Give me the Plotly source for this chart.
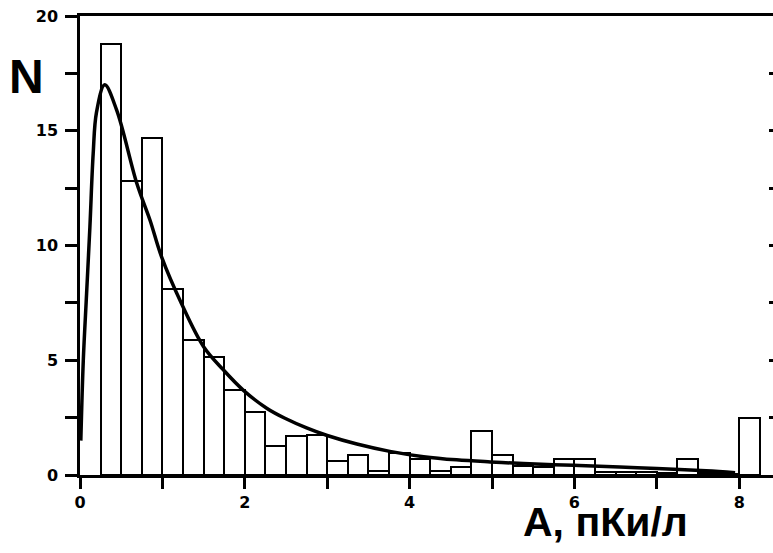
import plotly.graph_objects as go

# Histogram bins (left edges) and counts
bin_left = [0.25, 0.5, 0.75, 1.0, 1.25, 1.5, 1.75, 2.0, 2.25, 2.5, 2.75,
            3.0, 3.25, 3.5, 3.75, 4.0, 4.25, 4.5, 4.75, 5.0, 5.25, 5.5,
            5.75, 6.0, 6.25, 6.5, 6.75, 7.0, 7.25, 7.5, 7.75, 8.0]
counts = [18.8, 12.8, 14.7, 8.1, 5.88, 5.15, 3.7, 2.76, 1.26, 1.68, 1.76,
          0.6, 0.87, 0.18, 0.94, 0.69, 0.18, 0.33, 1.9, 0.87, 0.4, 0.35,
          0.68, 0.68, 0.15, 0.15, 0.15, 0.08, 0.7, 0.1, 0.05, 2.47]
bin_width = 0.25

# Fitted curve
curve_x = [0.01, 0.04, 0.08, 0.12, 0.16, 0.20, 0.30, 0.445, 0.69, 0.85, 0.99,
           1.23, 1.50, 1.74, 1.98, 2.27, 2.5, 2.75, 3.0, 3.36, 3.76, 4.17,
           4.57, 4.98, 5.38, 5.99, 6.55, 7.0, 7.6, 7.95]
curve_y = [1.5, 5.0, 7.9, 10.8, 14.0, 15.8, 17.0, 15.9, 12.7, 11.1, 9.5,
           7.48, 5.59, 4.58, 3.70, 2.90, 2.45, 2.05, 1.72, 1.35, 1.03, 0.8,
           0.66, 0.57, 0.5, 0.42, 0.35, 0.28, 0.18, 0.1]

x_tickvals = [0, 1, 2, 3, 4, 5, 6, 7, 8]
x_ticktext = ["0", "", "2", "", "4", "", "6", "", "8"]
y_tickvals = [0, 2.5, 5, 7.5, 10, 12.5, 15, 17.5, 20]
y_ticktext = ["0", "", "5", "", "10", "", "15", "", "20"]

fig = go.Figure()
fig.add_trace(go.Bar(
    x=bin_left, y=counts, width=bin_width, offset=0,
    marker=dict(color="white", line=dict(color="black", width=2)),
    showlegend=False, hoverinfo="skip"))
fig.add_trace(go.Scatter(
    x=curve_x, y=curve_y, mode="lines",
    line=dict(color="black", width=3.5, shape="spline", smoothing=1.0),
    showlegend=False))
# invisible trace so the right-hand tick axis is drawn
fig.add_trace(go.Scatter(x=[0], y=[0], yaxis="y2", mode="markers",
                         marker=dict(opacity=0), showlegend=False,
                         hoverinfo="skip"))

tick_font = dict(family="DejaVu Sans", size=16, color="black", weight="bold")

fig.update_layout(
    width=773, height=553,
    margin=dict(l=80, r=0, t=16, b=78),
    paper_bgcolor="white", plot_bgcolor="white",
    bargap=0,
    xaxis=dict(range=[0, 8.41], tickvals=x_tickvals, ticktext=x_ticktext,
               ticks="outside", ticklen=11, tickwidth=2.5, tickcolor="black",
               showline=True, linecolor="black", linewidth=2.5, mirror=True,
               showgrid=False, zeroline=False, tickfont=tick_font,
               ticklabeloverflow="allow"),
    yaxis=dict(range=[0, 20], tickvals=y_tickvals, ticktext=y_ticktext,
               ticks="outside", ticklen=12, tickwidth=2.5, tickcolor="black",
               showline=True, linecolor="black", linewidth=2.5,
               showgrid=False, zeroline=False, tickfont=tick_font,
               ticklabelstandoff=4, ticklabeloverflow="allow"),
    yaxis2=dict(range=[0, 20], overlaying="y", side="right", anchor="x",
                tickvals=y_tickvals, ticks="inside", ticklen=4, tickwidth=3,
                tickcolor="black", showticklabels=False, showline=False,
                showgrid=False, zeroline=False),
    annotations=[
        dict(text="N", xref="paper", yref="paper", x=(26 - 80) / 693,
             y=(475 - 76) / 459, xanchor="center", yanchor="middle",
             showarrow=False,
             font=dict(family="Liberation Sans", size=48, color="black",
                       weight="bold")),
        dict(text="A, пКи/л", xref="paper", yref="paper", x=(605 - 80) / 693,
             y=(475 - 522) / 459, xanchor="center", yanchor="middle",
             showarrow=False,
             font=dict(family="Liberation Sans", size=41, color="black",
                       weight="bold")),
    ],
)

fig.write_html("out.html",
               config={"displayModeBar": False},
               post_script="document.body.style.margin='0';"
                           "document.body.style.overflow='hidden';")
